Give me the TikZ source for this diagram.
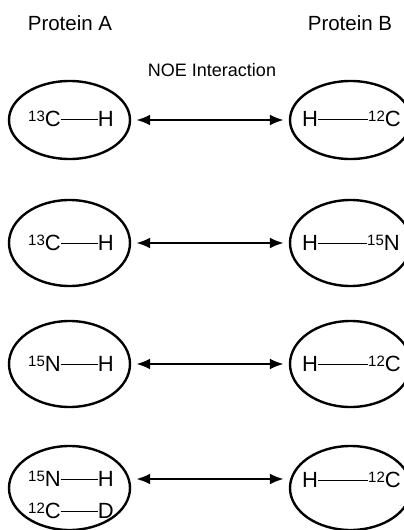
\documentclass[tikz,border=0pt]{standalone}
\usepackage{fontspec}
\setmainfont{Liberation Sans}
\usetikzlibrary{arrows.meta,shapes.geometric}
\newcommand\iso[1]{\raisebox{5.5pt}{\fontsize{15}{15}\selectfont #1}}
\begin{document}
\begin{tikzpicture}[x=1pt,y=-1pt,
  prot/.style={draw, ellipse, line width=2.4pt, inner sep=0pt, minimum width=121pt},
  atom/.style={inner sep=0pt, font=\fontsize{22}{22}\selectfont, text height=15.8pt, text depth=0pt},
  bond/.style={line width=0.9pt},
  noe/.style={line width=2.4pt, {Latex[length=14pt,width=11pt]}-{Latex[length=14pt,width=11pt]}, shorten <=5pt, shorten >=5pt},
  head/.style={inner sep=0pt, font=\fontsize{20.5}{20.5}\selectfont},
  lab/.style={inner sep=0pt, font=\fontsize{18}{18}\selectfont}]
\useasboundingbox (0,0) rectangle (404,530);
\node[head] (pa) at (70,23) {Protein A};
\node[head] (pb) at (350,23) {Protein B};
\node[lab] (noe) at (212,70) {NOE Interaction};
% ellipses
\node[prot, minimum height=78pt] (a1) at (69.5,120) {};
\node[prot, minimum height=78pt] (b1) at (350.5,120) {};
\node[prot, minimum height=86pt] (a2) at (69.5,243) {};
\node[prot, minimum height=86pt] (b2) at (350.5,243) {};
\node[prot, minimum height=86pt] (a3) at (69.5,364) {};
\node[prot, minimum height=86pt] (b3) at (350.5,364) {};
\node[prot, minimum height=84pt] (a4) at (69.5,488) {};
\node[prot, minimum height=84pt] (b4) at (350.5,488) {};
% row 1
\node[atom, anchor=west] (a1x) at (28,119) {\iso{13}C};
\node[atom, anchor=east] (a1h) at (114,119) {H};
\draw[bond] (a1x) -- (a1h);
\node[atom, anchor=west] (b1h) at (302,119) {H};
\node[atom, anchor=east] (b1x) at (401,119) {\iso{12}C};
\draw[bond] (b1h) -- (b1x);
% row 2
\node[atom, anchor=west] (a2x) at (28,243) {\iso{13}C};
\node[atom, anchor=east] (a2h) at (114,243) {H};
\draw[bond] (a2x) -- (a2h);
\node[atom, anchor=west] (b2h) at (302,243) {H};
\node[atom, anchor=east] (b2x) at (400,243) {\iso{15}N};
\draw[bond] (b2h) -- (b2x);
% row 3
\node[atom, anchor=west] (a3x) at (28,364) {\iso{15}N};
\node[atom, anchor=east] (a3h) at (114,364) {H};
\draw[bond] (a3x) -- (a3h);
\node[atom, anchor=west] (b3h) at (302,364) {H};
\node[atom, anchor=east] (b3x) at (401,364) {\iso{12}C};
\draw[bond] (b3h) -- (b3x);
% row 4
\node[atom, anchor=west] (a4x) at (28,479) {\iso{15}N};
\node[atom, anchor=east] (a4h) at (114,479) {H};
\draw[bond] (a4x) -- (a4h);
\node[atom, anchor=west] (a4y) at (28,511) {\iso{12}C};
\node[atom, anchor=east] (a4d) at (114,511) {D};
\draw[bond] (a4y) -- (a4d);
\node[atom, anchor=west] (b4h) at (302,480) {H};
\node[atom, anchor=east] (b4x) at (401,480) {\iso{12}C};
\draw[bond] (b4h) -- (b4x);
% arrows
\draw[noe] (a1.east) -- (b1.west);
\draw[noe] (a2.east) -- (b2.west);
\draw[noe] (a3.east) -- (b3.west);
\draw[noe] (a4.east |- a4h) -- (b4.west |- a4h);
\end{tikzpicture}
\end{document}
